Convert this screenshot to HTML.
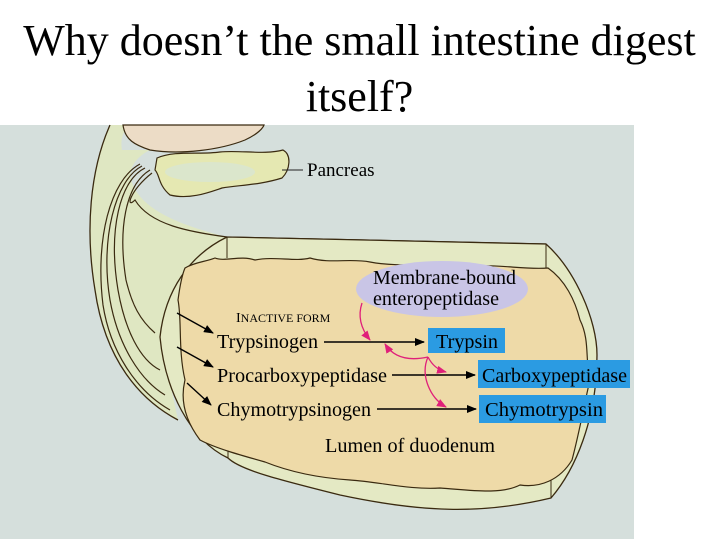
<!DOCTYPE html>
<html><head><meta charset="utf-8"><style>
html,body{margin:0;padding:0;background:#fff;width:719px;height:539px;overflow:hidden}
.t{position:absolute;left:0;width:719px;text-align:center;font-family:"Liberation Serif",serif;font-size:44px;color:#000;white-space:nowrap}
</style></head><body>
<div class="t" style="top:15px">Why doesn’t the small intestine digest</div>
<div class="t" style="top:71px">itself?</div>
<svg style="position:absolute;left:0;top:0" width="719" height="539" viewBox="0 0 719 539">
<rect x="0" y="125" width="634" height="414" fill="#d5dfdc"/>
<path d="M110,125 C90,170 85,230 95,290 C105,360 140,400 178,420 L160,337 C175,290 195,265 227,237 C180,225 140,210 131,180 C128,165 140,155 150,150 L122,150 C120,140 123,130 130,125 Z" fill="#dfe7c2" stroke="none"/>
<path d="M110,125 C90,170 85,230 95,290 C105,360 140,400 178,420" fill="none" stroke="#3a2a10" stroke-width="1.3"/>
<path d="M145,168 C120,180 108,230 118,290 C125,330 140,360 160,370" fill="none" stroke="#3a2a10" stroke-width="1.2"/>
<path d="M142,166 C115,180 100,240 110,300 C118,345 140,380 165,395" fill="none" stroke="#3a2a10" stroke-width="1.2"/>
<path d="M140,164 C110,180 95,240 103,305 C110,350 135,390 170,410" fill="none" stroke="#3a2a10" stroke-width="1.2"/>
<path d="M150,170 C125,185 118,230 126,280 C132,305 140,320 155,333" fill="none" stroke="#3a2a10" stroke-width="1.2"/>
<path d="M152,173 C130,190 125,210 135,200 C150,225 190,232 227,237 L546,244" fill="none" stroke="#3a2a10" stroke-width="1.2"/>
<path d="M123,125 C125,140 135,145 150,150 C180,155 220,150 245,140 C258,134 263,128 264,125 Z" fill="#ecdcc6" stroke="#3a2a10" stroke-width="1.2"/>
<path d="M157,158 C175,150 200,155 220,152 C240,150 265,155 283,150 C292,155 290,170 282,178 C260,185 240,185 222,188 C210,192 190,200 170,195 C158,185 160,175 155,170 Z" fill="#e5e8b2" stroke="#3a2a10" stroke-width="1.2"/>
<ellipse cx="210" cy="172" rx="45" ry="10" fill="#dbe6cc"/>
<line x1="282" y1="170" x2="303" y2="170" stroke="#222" stroke-width="1"/>
<text x="307" y="176" font-family="Liberation Serif,serif" font-size="19">Pancreas</text>
<path d="M227,237 L546,244 C575,270 597,320 597,355 C597,420 575,470 551,498 C480,515 420,512 340,495 C280,480 240,470 228,458 C190,440 165,390 160,337 C165,290 190,255 227,237 Z" fill="#e4e9c4" stroke="#3a2a10" stroke-width="1.3"/>
<line x1="227" y1="237" x2="227" y2="258" stroke="#3a2a10"/>
<line x1="546" y1="244" x2="546" y2="268" stroke="#3a2a10"/>
<line x1="228" y1="438" x2="228" y2="458" stroke="#3a2a10"/>
<line x1="551" y1="470" x2="551" y2="498" stroke="#3a2a10"/>
<path d="M185,268 C195,262 205,262 215,258 C225,262 240,255 255,260 C275,256 295,262 310,258 C330,264 350,258 370,262 C400,268 440,262 470,266 C500,264 525,270 548,268 C565,280 575,300 580,320 C590,340 585,360 590,380 C585,400 580,430 572,460 C560,480 540,488 520,485 C500,495 470,490 440,488 C410,490 380,482 350,480 C320,478 290,472 265,462 C240,455 215,448 200,440 C185,420 180,400 185,380 C178,350 182,320 178,300 C180,285 182,275 185,268 Z" fill="#eedaa8" stroke="#3a2a10" stroke-width="1.2"/>
<ellipse cx="442" cy="289" rx="86" ry="28" fill="#c9c5e6"/>
<g font-family="Liberation Serif,serif" font-size="20" fill="#000">
<text x="373" y="284" textLength="143" lengthAdjust="spacingAndGlyphs">Membrane-bound</text>
<text x="373" y="305" textLength="126" lengthAdjust="spacingAndGlyphs">enteropeptidase</text>
<text x="236" y="322" font-size="14">I<tspan font-size="12">NACTIVE FORM</tspan></text>
<text x="217" y="348" textLength="101" lengthAdjust="spacingAndGlyphs">Trypsinogen</text>
<text x="217" y="382" textLength="170" lengthAdjust="spacingAndGlyphs">Procarboxypeptidase</text>
<text x="217" y="416" textLength="154" lengthAdjust="spacingAndGlyphs">Chymotrypsinogen</text>
<text x="325" y="452" textLength="170" lengthAdjust="spacingAndGlyphs">Lumen of duodenum</text>
</g>
<rect x="428" y="328" width="77" height="25" fill="#2b9be2"/>
<rect x="478" y="360" width="152" height="28" fill="#2b9be2"/>
<rect x="479" y="395" width="127" height="28" fill="#2b9be2"/>
<g font-family="Liberation Serif,serif" font-size="20" fill="#000">
<text x="436" y="348" textLength="62" lengthAdjust="spacingAndGlyphs">Trypsin</text>
<text x="482" y="382" textLength="145" lengthAdjust="spacingAndGlyphs">Carboxypeptidase</text>
<text x="485" y="416" textLength="118" lengthAdjust="spacingAndGlyphs">Chymotrypsin</text>
</g>
<defs>
<marker id="a" markerWidth="10" markerHeight="8" refX="9" refY="4" orient="auto" markerUnits="userSpaceOnUse"><path d="M0,0 L10,4 L0,8 Z" fill="#000"/></marker>
<marker id="m" markerWidth="10" markerHeight="8" refX="9" refY="4" orient="auto" markerUnits="userSpaceOnUse"><path d="M0,0 L10,4 L0,8 Z" fill="#e0207a"/></marker>
</defs>
<g stroke="#000" stroke-width="1.4" marker-end="url(#a)">
<line x1="324" y1="342" x2="424" y2="342"/>
<line x1="392" y1="375" x2="475" y2="375"/>
<line x1="377" y1="409" x2="476" y2="409"/>
<line x1="177" y1="313" x2="213" y2="333"/>
<line x1="177" y1="347" x2="213" y2="367"/>
<line x1="187" y1="383" x2="211" y2="405"/>
</g>
<g stroke="#e0207a" stroke-width="1.3" fill="none" marker-end="url(#m)">
<path d="M362,303 C357,318 362,330 370,340"/>
<path d="M428,357 C405,362 392,355 385,344"/>
<path d="M428,357 C432,365 438,370 446,372"/>
<path d="M428,357 C420,375 430,398 446,407"/>
</g>
</svg>
</body></html>
